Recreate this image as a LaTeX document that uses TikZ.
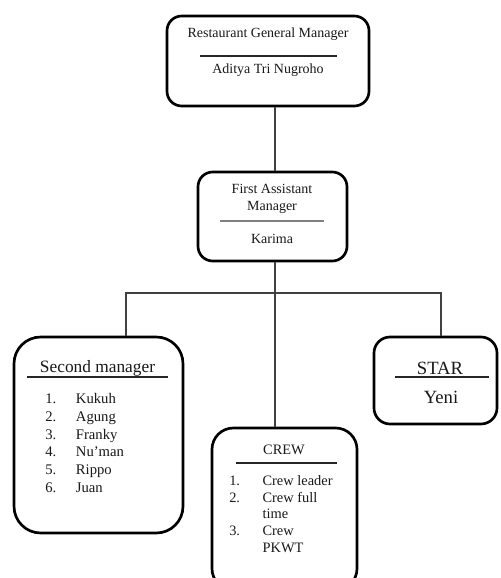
\documentclass[tikz,border=0pt]{standalone}
\usepackage{fontspec}
\setmainfont{Liberation Serif}
\usetikzlibrary{positioning}

\begin{document}
\begin{tikzpicture}[x=0.75pt,y=-0.75pt]
\tikzset{box/.style={rectangle, draw=black, line width=2pt, fill=white, inner sep=0pt},
		boxsize/.style 2 args={minimum width=#1*0.75pt, minimum height=#2*0.75pt},
		link/.style={draw=black!75, line width=1pt},
		sepline/.style={draw=black!85, line width=0.8pt},
		txt/.style={align=center, inner sep=0pt, text=black!90}}
\useasboundingbox (0,0) rectangle (500,578);
\clip (0,0) rectangle (500,578);
\node[box, boxsize={202}{90}, rounded corners=11pt] (RGM) at (268,61) {};
\node[box, boxsize={149}{89}, rounded corners=11pt] (FAM) at (272.5,216.5) {};
\node[box, boxsize={169}{196}, rounded corners=20pt] (SM) at (98.5,435) {};
\node[box, boxsize={123}{87}, rounded corners=12pt] (STAR) at (435.5,380.5) {};
\node[box, boxsize={145}{162}, rounded corners=16pt] (CREW) at (284.5,509) {};
\coordinate (trunk) at (275,293);
\coordinate (busL) at (126,293);
\coordinate (busR) at (441,293);
\draw[link] (RGM.south -| trunk) -- (FAM.north -| trunk);
\draw[link] (FAM.south -| trunk) -- (CREW.north -| trunk);
\draw[link] (SM.north -| busL) -- (busL) -- (busR) -- (STAR.north -| busR);
% general manager
\node[txt, font=\fontsize{10.5}{12.5}\selectfont] (RGMt) at (268,34) {Restaurant General Manager};
\draw[sepline] (200,56) -- (337,56);
\node[txt, font=\fontsize{10.5}{12.5}\selectfont] (RGMn) at (268,70) {Aditya Tri Nugroho};
% first assistant
\node[txt, font=\fontsize{10.5}{12.75}\selectfont] (FAMt) at (272,198.5) {First Assistant\\Manager};
\draw[sepline, draw=gray] (220,221) -- (324,221);
\node[txt, font=\fontsize{10.5}{12.5}\selectfont] (FAMn) at (272,239) {Karima};
% second manager
\node[txt, font=\fontsize{13}{15}\selectfont] (SMt) at (97.5,368) {Second manager};
\draw[sepline] (27,377) -- (168,377);
\node[txt, anchor=west, align=left, font=\fontsize{11}{13.3}\selectfont] (SMl) at (45,444.5)
	{\begin{tabular}{@{}p{23pt}@{}l@{}}
	1. & Kukuh\\ 2. & Agung\\ 3. & Franky\\ 4. & Nu'man\\ 5. & Rippo\\ 6. & Juan
	\end{tabular}};
% star
\node[txt, font=\fontsize{14}{16}\selectfont] (STARt) at (440,368) {STAR};
\draw[sepline] (395,377) -- (489,377);
\node[txt, font=\fontsize{14}{16}\selectfont] (STARn) at (441,397) {Yeni};
% crew
\node[txt, font=\fontsize{10.8}{12.6}\selectfont] (CREWt) at (284,450) {CREW};
\draw[sepline] (236,463) -- (337,463);
\node[txt, anchor=west, align=left, font=\fontsize{10.8}{12.6}\selectfont] (CREWl) at (229,515.5)
	{\begin{tabular}{@{}p{25pt}@{}l@{}}
	1. & Crew leader\\ 2. & Crew full\\ & time\\ 3. & Crew\\ & PKWT
	\end{tabular}};
\end{tikzpicture}
\end{document}
